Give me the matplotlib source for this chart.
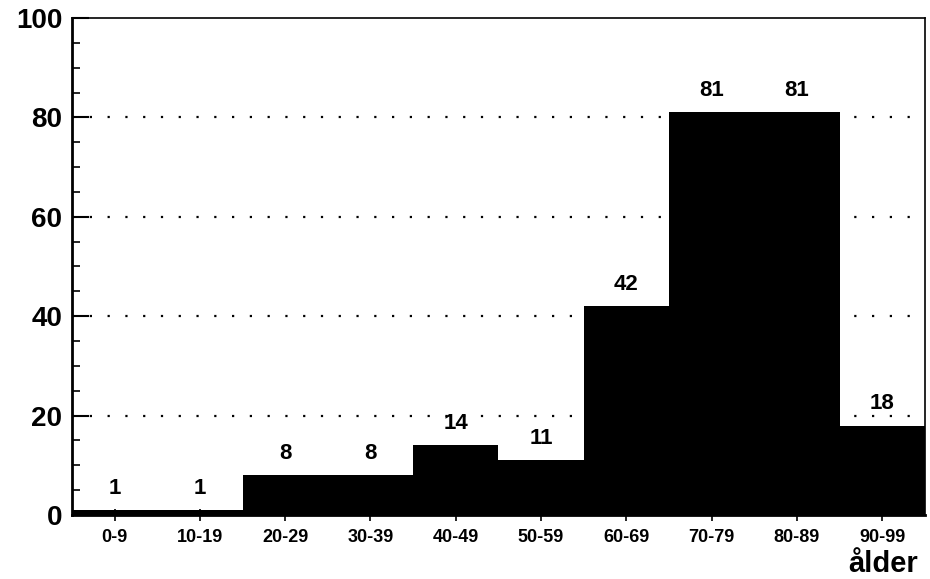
import matplotlib.pyplot as plt
from matplotlib.ticker import MultipleLocator

# Age groups and counts
age_groups = ["0-9", "10-19", "20-29", "30-39", "40-49",
              "50-59", "60-69", "70-79", "80-89", "90-99"]
counts = [1, 1, 8, 8, 14, 11, 42, 81, 81, 18]
y_ticks = [0, 20, 40, 60, 80, 100]

plt.rcParams["font.family"] = ["Liberation Sans", "DejaVu Sans"]
plt.rcParams["font.weight"] = "bold"

fig = plt.figure(figsize=(9.3, 5.79), dpi=100)
ax = fig.add_axes([0.0774, 0.1105, 0.917, 0.8585])

x = list(range(len(age_groups)))
ax.bar(x, counts, width=1.0, color="black", zorder=2)

# sparse dotted reference lines
for y in y_ticks[1:-1]:
    ax.axhline(y, color="black", linewidth=1.6, linestyle=(0, (1, 7)), zorder=1)

for xi, c in zip(x, counts):
    ax.annotate(str(c), (xi, c), xytext=(0, 8), textcoords="offset points",
                ha="center", va="bottom", fontsize=16, fontweight="bold")

ax.set_xlim(-0.5, len(age_groups) - 0.5)
ax.set_ylim(0, 100)
ax.set_xticks(x)
ax.set_xticklabels(age_groups, fontsize=13, fontweight="bold")
ax.set_yticks(y_ticks)
ax.set_yticklabels([str(v) for v in y_ticks], fontsize=20, fontweight="bold")
ax.yaxis.set_minor_locator(MultipleLocator(5))

ax.tick_params(axis="x", direction="inout", length=8, width=1.2, pad=6)
ax.tick_params(axis="y", which="major", direction="in", length=12, width=1.5, pad=7)
ax.tick_params(axis="y", which="minor", direction="in", length=6, width=1.2)

for side in ["left", "bottom"]:
    ax.spines[side].set_linewidth(2)
for side in ["top", "right"]:
    ax.spines[side].set_linewidth(1.2)

fig.text(0.987, 0.002, "ålder", ha="right", va="bottom",
         fontsize=21, fontweight="bold")

fig.savefig("out.png", dpi=100)
